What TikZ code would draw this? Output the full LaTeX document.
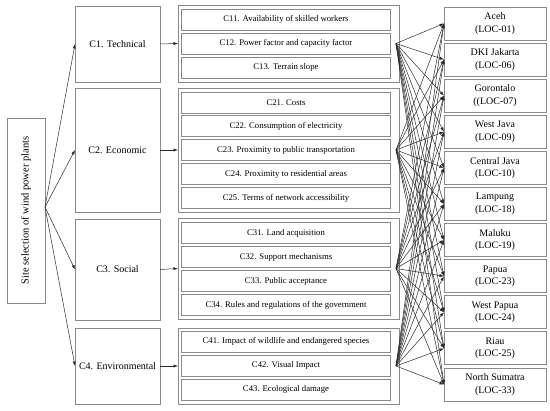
\documentclass[tikz,border=0pt]{standalone}
\usepackage{fontspec}
\setmainfont{Liberation Serif}
\usepackage{xcolor}
\definecolor{frameGray}{HTML}{8A8A8A}
\definecolor{lineDark}{HTML}{2B2B2B}
\usepackage{tikz}
\usetikzlibrary{arrows.meta,positioning}
\tikzset{
  >={Latex[length=4.5pt,width=3.2pt]},
  frame/.style={rectangle,draw=frameGray,line width=0.8pt,fill=white,inner sep=0pt,outer sep=0pt,align=center},
  critbox/.style={frame,minimum width=85pt,font=\rmfamily\fontsize{10}{12}\selectfont},
  groupbox/.style={frame,minimum width=221pt},
  subbox/.style={frame,minimum width=209pt,minimum height=21pt,font=\rmfamily\fontsize{8.7}{10}\selectfont},
  locbox/.style={frame,minimum width=102pt,minimum height=33pt,font=\rmfamily\fontsize{10}{12.5}\selectfont},
  linkarrow/.style={->,draw=lineDark,line width=0.5pt},
}

\begin{document}
\begin{tikzpicture}[x=1pt,y=-1pt]
  \useasboundingbox (0,0) rectangle (550,411);

  % goal
  \node[frame, minimum width=38pt, minimum height=185pt] (goal) at (26,210.5) {};
  \node[rotate=90, font=\rmfamily\fontsize{10.5}{12}\selectfont] at (goal.center) {Site selection of wind power plants};
  \coordinate (goalout) at (45,207);

  % criteria
  \node[critbox, minimum height=76pt] (c1) at (117.5,44) {C1. Technical};
  \node[critbox, minimum height=124pt] (c2) at (117.5,150) {C2. Economic};
  \node[critbox, minimum height=101pt] (c3) at (117.5,269.5) {C3. Social};
  \node[critbox, minimum height=76pt] (c4) at (117.5,366) {C4. Environmental};

  \draw[linkarrow] (goalout) -- (c1.west);
  \draw[linkarrow] (goalout) -- (c2.west);
  \draw[linkarrow] (goalout) -- (c3.west);
  \draw[linkarrow] (goalout) -- (c4.west);

  % sub-criteria groups
  \node[groupbox, minimum height=77pt] (g1) at (288.5,43.5) {};
  \node[groupbox, minimum height=124pt] (g2) at (288.5,150) {};
  \node[groupbox, minimum height=101pt] (g3) at (288.5,268.5) {};
  \node[groupbox, minimum height=76pt] (g4) at (288.5,366) {};

  \draw[linkarrow] (c1.east) -- (g1.west);
  \draw[linkarrow] (c2.east) -- (g2.west);
  \draw[linkarrow] (c3.east) -- (g3.west);
  \draw[linkarrow] (c4.east) -- (g4.west);

  \node[subbox] (c11) at (286,19.5) {C11. Availability of skilled workers};
  \node[subbox, below=3pt of c11] (c12) {C12. Power factor and capacity factor};
  \node[subbox, below=3pt of c12] (c13) {C13. Terrain slope};

  \node[subbox] (c21) at (286,102.5) {C21. Costs};
  \node[subbox, below=2.9pt of c21] (c22) {C22. Consumption of electricity};
  \node[subbox, below=2.9pt of c22] (c23) {C23. Proximity to public transportation};
  \node[subbox, below=2.9pt of c23] (c24) {C24. Proximity to residential areas};
  \node[subbox, below=2.9pt of c24] (c25) {C25. Terms of network accessibility};

  \node[subbox] (c31) at (286,233) {C31. Land acquisition};
  \node[subbox, below=3pt of c31] (c32) {C32. Support mechanisms};
  \node[subbox, below=3pt of c32] (c33) {C33. Public acceptance};
  \node[subbox, below=3pt of c33] (c34) {C34. Rules and regulations of the government};

  \node[subbox] (c41) at (286,341.5) {C41. Impact of wildlife and endangered species};
  \node[subbox, below=3pt of c41] (c42) {C42. Visual Impact};
  \node[subbox, below=3pt of c42] (c43) {C43. Ecological damage};

  % locations
  \node[locbox] (loc01) at (495,23.5) {Aceh\\(LOC-01)};
  \node[locbox, below=3.1pt of loc01] (loc06) {DKI Jakarta\\(LOC-06)};
  \node[locbox, below=3.1pt of loc06] (loc07) {Gorontalo\\((LOC-07)};
  \node[locbox, below=3.1pt of loc07] (loc09) {West Java\\(LOC-09)};
  \node[locbox, below=3.1pt of loc09] (loc10) {Central Java\\(LOC-10)};
  \node[locbox, below=3.1pt of loc10] (loc18) {Lampung\\(LOC-18)};
  \node[locbox, below=3.1pt of loc18] (loc19) {Maluku\\(LOC-19)};
  \node[locbox, below=3.1pt of loc19] (loc23) {Papua\\(LOC-23)};
  \node[locbox, below=3.1pt of loc23] (loc24) {West Papua\\(LOC-24)};
  \node[locbox, below=3.1pt of loc24] (loc25) {Riau\\(LOC-25)};
  \node[locbox, below=3.1pt of loc25] (loc33) {North Sumatra\\(LOC-33)};

  \foreach \g in {g1,g2,g3,g4}
    \foreach \l in {loc01,loc06,loc07,loc09,loc10,loc18,loc19,loc23,loc24,loc25,loc33}
      \draw[linkarrow] ([xshift=-3pt]\g.east) -- (\l.west);
\end{tikzpicture}
\end{document}
